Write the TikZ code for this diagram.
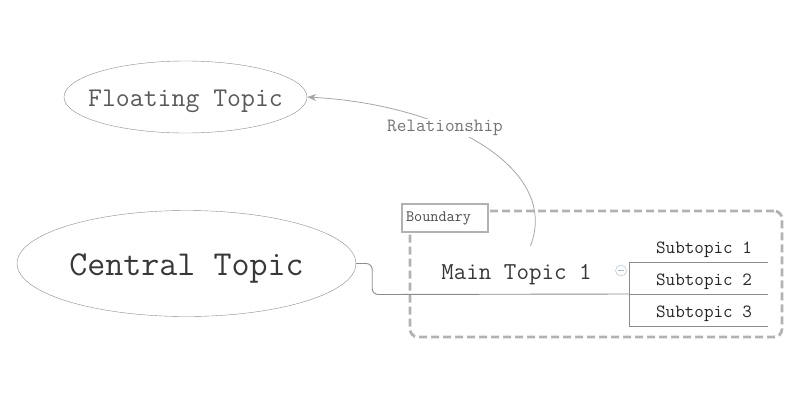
\documentclass[tikz,border=0pt]{standalone}
\usepackage{xcolor}
\usepackage{tikz}
\usetikzlibrary{positioning,arrows.meta,calc,shapes.geometric}
\definecolor{inkgray}{HTML}{383838}
\definecolor{edgegray}{HTML}{8C8C8C}
\definecolor{bndgray}{HTML}{B2B2B2}
\definecolor{relgray}{HTML}{A6A6A6}
\definecolor{foldblue}{HTML}{A8B4D0}
\newcommand{\fs}[1]{\fontsize{#1}{#1}\selectfont\ttfamily}

\begin{document}
\begin{tikzpicture}[x=1pt, y=-1pt, >=Stealth,
  topic/.style={draw=edgegray, ellipse, inner xsep=-20pt, inner ysep=0pt, text=inkgray, text depth=0pt},
  branch/.style={draw=edgegray, line width=0.9pt},
  subtopic/.style={font=\fs{18.6}, text=black!85, inner xsep=16pt, inner ysep=4pt, text height=13pt, text depth=4pt, anchor=south}]
\useasboundingbox (0,0) rectangle (800,400);
% boundary round the main topic
\node[draw=bndgray, line width=2.8pt, dash pattern=on 8pt off 4pt, rounded corners=8pt,
  minimum width=372pt, minimum height=126pt] (bnd) at (596,274) {};
\node[draw=bndgray, line width=2.8pt, fill=white, anchor=north west, text width=78pt, inner xsep=4pt,
  minimum height=28pt, align=left, font=\fs{15.8}, text=black!70] (bndlabel)
  at ([shift={(-8,-7)}]bnd.north west) {Boundary};
% topics
\node[topic, minimum width=339pt, minimum height=106pt, font=\fs{35}, text height=24pt] (central) at (186.5,263.5) {Central Topic};
\node[topic, minimum width=243pt, minimum height=72pt, font=\fs{27}, text=black!65, text height=18pt] (float) at (185.5,97) {Floating Topic};
\node[font=\fs{24.3}, text=inkgray, inner sep=0pt, text height=17pt, text depth=5pt, anchor=base] (main) at (516.5,279) {Main Topic 1};
\node[circle, draw=foldblue, minimum size=11pt, inner sep=0pt] (fold) at (621,270.5) {};
\draw[foldblue] ([xshift=-3pt]fold.center) -- ([xshift=3pt]fold.center);
\coordinate (fork) at (629,294);
\node[subtopic] (sub1) at (704,262) {Subtopic 1};
\node[subtopic] (sub2) at (704,294) {Subtopic 2};
\node[subtopic] (sub3) at (704,326) {Subtopic 3};
% branches
\draw[branch, rounded corners=6pt] (central.east) -| ++(16,31) -- (fork);
\draw[branch] (sub1.south east) -- (sub1.south -| fork) |- (sub3.south east);
\draw[branch] (fork) -- (sub2.south east);
% relationship
\draw[relgray, line width=0.8pt, -{Stealth[length=9pt,width=7pt]}]
  ([shift={(14,-16)}]main.north) .. controls (560,170) and (450,105) .. (float.east);
\node[fill=white, inner sep=1pt, font=\fs{18.7}, text=black!55] (rel) at (445,128) {Relationship};
\end{tikzpicture}
\end{document}
